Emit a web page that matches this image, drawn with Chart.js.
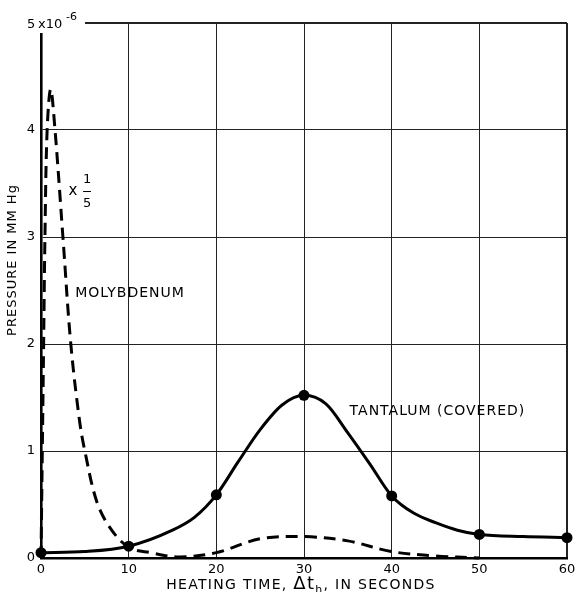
<!DOCTYPE html>
<html>
<head>
<meta charset="utf-8">
<script src="https://cdn.jsdelivr.net/npm/chart.js@4/dist/chart.umd.min.js"></script>
<style>
  html, body { margin: 0; padding: 0; background: #fff; }
  #wrap { width: 576px; height: 592px; position: relative; }
</style>
</head>
<body>
<div id="wrap"><canvas id="c" width="576" height="592"></canvas></div>
<script>
// ---- data ----
const xTicks = [0, 10, 20, 30, 40, 50, 60];
const yTicks = [0, 1, 2, 3, 4, 5];

// Molybdenum (x 1/5), dashed curve
const molyX = [0, 0.15, 0.3, 0.45, 0.7, 1.1, 1.6, 2.5, 3.4, 4.4, 5.0, 6.35, 7.9, 10, 12.5, 15.8, 20, 25, 30, 35, 40, 45, 50];
const molyY = [0, 1.0, 2.0, 3.0, 4.0, 4.38, 4.0, 3.0, 2.0, 1.28, 1.0, 0.53, 0.28, 0.1, 0.05, 0.01, 0.05, 0.18, 0.2, 0.16, 0.06, 0.02, 0.0];

// Tantalum (covered), solid curve
const tantCurveX = [0, 5, 10, 15, 17.5, 20, 22.5, 25, 27.5, 30, 32.5, 35, 37.5, 40, 42.5, 45, 47.5, 50, 55, 60];
const tantCurveY = [0.05, 0.06, 0.11, 0.26, 0.38, 0.59, 0.90, 1.2, 1.43, 1.52, 1.44, 1.17, 0.88, 0.58, 0.42, 0.33, 0.26, 0.22, 0.20, 0.19];

// Tantalum measured points
const tantPointX = [0, 10, 20, 30, 40, 50, 60];
const tantPointY = [0.05, 0.11, 0.59, 1.52, 0.58, 0.22, 0.19];

const FONT = '"DejaVu Sans", sans-serif';

function pts(xs, ys) { return xs.map((x, i) => ({ x: x, y: ys[i] })); }

const textPlugin = {
  id: 'texts',
  afterDraw(chart) {
    const ctx = chart.ctx;
    const xs = chart.scales.x, ys = chart.scales.y;
    const X = v => xs.getPixelForValue(v), Y = v => ys.getPixelForValue(v);
    ctx.save();
    ctx.fillStyle = '#000';
    ctx.strokeStyle = '#000';

    // open top-left corner, with the exponent label
    const top = Y(5), left = X(0);
    ctx.fillStyle = '#fff';
    ctx.fillRect(left - 4, top - 4, 48, 14);
    ctx.fillStyle = '#000';
    ctx.textBaseline = 'middle';
    ctx.textAlign = 'left';
    ctx.font = '13px ' + FONT;
    ctx.fillText('5', left - 14, top + 2);
    ctx.fillText('x10', left - 3, top + 2);
    ctx.font = '11px ' + FONT;
    ctx.fillText('-6', left + 25, top - 6);

    // y axis title
    ctx.save();
    ctx.translate(13, 260);
    ctx.rotate(-Math.PI / 2);
    ctx.font = '13px ' + FONT;
    ctx.letterSpacing = '1px';
    ctx.textAlign = 'center';
    ctx.fillText('PRESSURE IN MM Hg', 0, 0);
    ctx.restore();

    // x axis title with subscript
    ctx.save();
    ctx.letterSpacing = '1.3px';
    const parts = [
      { t: 'HEATING TIME, ', f: '14px ' + FONT, dy: 0 },
      { t: '\u0394t', f: '18px ' + FONT, dy: 0 },
      { t: 'h', f: '11px ' + FONT, dy: 4 },
      { t: ', IN SECONDS', f: '14px ' + FONT, dy: 0 }
    ];
    let total = 0;
    parts.forEach(p => { ctx.font = p.f; p.w = ctx.measureText(p.t).width; total += p.w; });
    let cx = 301 - total / 2;
    ctx.textAlign = 'left';
    ctx.textBaseline = 'alphabetic';
    parts.forEach(p => { ctx.font = p.f; ctx.fillText(p.t, cx, 589 + p.dy); cx += p.w; });
    ctx.restore();

    // curve annotations
    ctx.save();
    ctx.textBaseline = 'middle';
    ctx.textAlign = 'left';
    ctx.font = '14px ' + FONT;
    ctx.letterSpacing = '1px';
    ctx.fillText('MOLYBDENUM', X(3.9), Y(2.47));
    ctx.fillText('TANTALUM (COVERED)', X(35.2), Y(1.37));
    ctx.letterSpacing = '0px';
    ctx.font = '15px ' + FONT;
    ctx.fillText('x', X(3.15), Y(3.43));
    ctx.textAlign = 'center';
    ctx.font = '13px ' + FONT;
    ctx.fillText('1', X(5.25), Y(3.54));
    ctx.fillText('5', X(5.25), Y(3.31));
    ctx.lineWidth = 1;
    ctx.beginPath();
    ctx.moveTo(X(4.8), Y(3.425));
    ctx.lineTo(X(5.7), Y(3.425));
    ctx.stroke();
    ctx.restore();

    ctx.restore();
  }
};

new Chart(document.getElementById('c'), {
  type: 'scatter',
  data: {
    datasets: [
      {
        label: 'Molybdenum',
        data: pts(molyX, molyY),
        showLine: true,
        borderColor: '#000',
        borderWidth: 3,
        borderDash: [12, 7],
        pointRadius: 0,
        tension: 0.35,
        clip: false
      },
      {
        label: 'Tantalum',
        data: pts(tantCurveX, tantCurveY),
        showLine: true,
        borderColor: '#000',
        borderWidth: 3,
        pointRadius: 0,
        cubicInterpolationMode: 'monotone',
        clip: false
      },
      {
        label: 'Tantalum points',
        data: pts(tantPointX, tantPointY),
        showLine: false,
        pointRadius: 5.5,
        pointBackgroundColor: '#000',
        pointBorderColor: '#000',
        pointBorderWidth: 0,
        clip: false
      }
    ]
  },
  options: {
    responsive: false,
    animation: false,
    devicePixelRatio: 1,
    layout: { padding: { top: 23, right: 9, left: 0, bottom: 0 } },
    plugins: {
      legend: { display: false },
      tooltip: { enabled: false }
    },
    scales: {
      x: {
        type: 'linear',
        min: 0, max: 60,
        afterBuildTicks: s => { s.ticks = xTicks.map(v => ({ value: v })); },
        afterFit: s => { s.height = 34; s.paddingLeft = 0; s.paddingRight = 0; },
        ticks: { color: '#000', font: { family: FONT, size: 13 }, padding: 4, maxRotation: 0 },
        grid: {
          color: '#222',
          lineWidth: c => (c.tick && c.tick.value === 60 ? 2 : 1),
          drawTicks: false
        },
        border: { color: '#000', width: 2.6 }
      },
      y: {
        type: 'linear',
        min: 0, max: 5,
        afterBuildTicks: s => { s.ticks = yTicks.map(v => ({ value: v })); },
        afterFit: s => { s.width = 41; s.paddingTop = 0; s.paddingBottom = 0; },
        ticks: {
          color: '#000', font: { family: FONT, size: 13 }, padding: 6,
          callback: v => (v === 5 ? '' : String(v))
        },
        grid: {
          color: '#222',
          lineWidth: c => (c.tick && c.tick.value === 5 ? 2 : 1),
          drawTicks: false
        },
        border: { color: '#000', width: 2.6 }
      }
    }
  },
  plugins: [textPlugin]
});
</script>
</body>
</html>
